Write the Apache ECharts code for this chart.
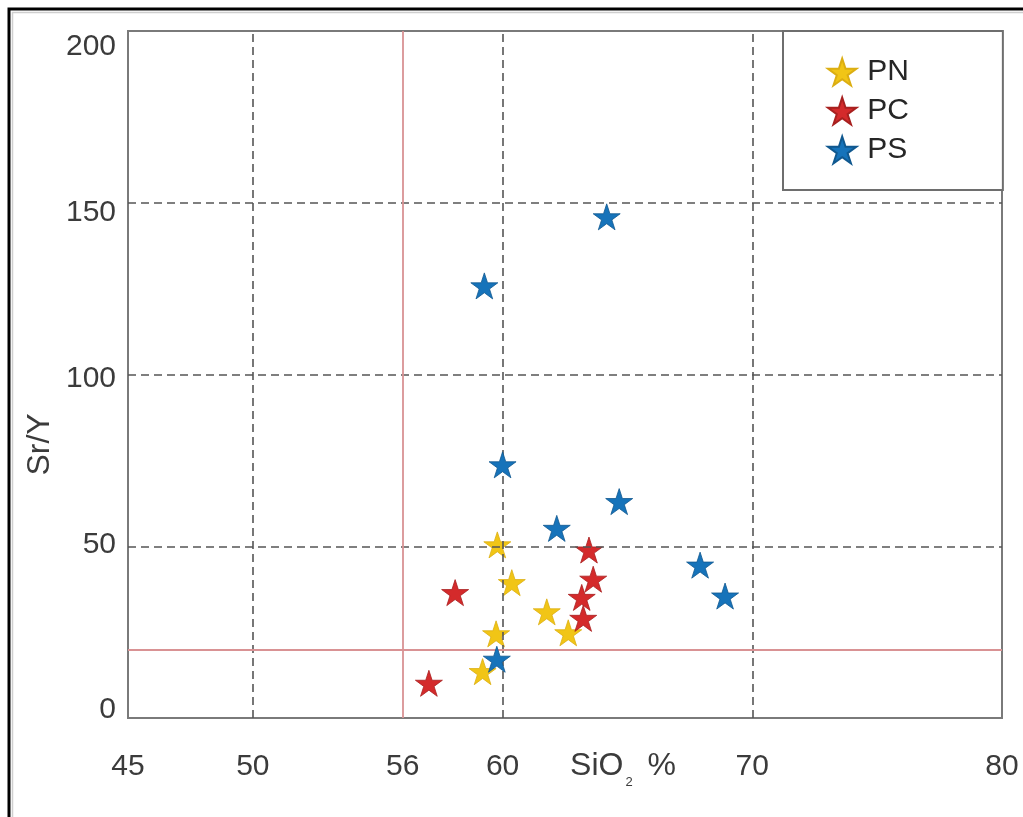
<!DOCTYPE html>
<html>
<head>
<meta charset="utf-8">
<title>Sr/Y vs SiO2</title>
<script src="https://cdn.jsdelivr.net/npm/echarts@6/dist/echarts.min.js"></script>
<style>
  html, body { margin: 0; padding: 0; background: #ffffff; overflow: hidden; }
  #chart { width: 1023px; height: 817px; position: absolute; left: 0; top: 0; }
</style>
</head>
<body>
<div id="chart"></div>
<script>
// Tick labels
const xTicks = [45, 50, 56, 60, 70, 80];
const yTicks = [0, 50, 100, 150, 200];

// Dashed reference grid and red discrimination limits
const gridX = [50, 60, 70];
const gridY = [50, 100, 150];
const sio2Limit = 56;
const srYLimit = 20;

// Samples: [SiO2 %, Sr/Y]
const pnData = [
  [59.79, 50.4], [60.37, 39.4], [61.77, 30.9],
  [62.63, 24.8], [59.74, 24.5], [59.2, 13.5]
];
const pcData = [
  [63.46, 48.9], [63.63, 40.4], [58.1, 36.5],
  [63.17, 35.1], [63.23, 29.0], [57.05, 10.1]
];
const psData = [
  [64.17, 145.9], [59.27, 125.8], [60.0, 73.7], [62.17, 55.2],
  [64.67, 63.0], [67.91, 44.5], [68.91, 35.5], [59.77, 17.1]
];

const seriesNames = ['PN', 'PC', 'PS'];
const seriesColors = ['#f1c516', '#d42a2b', '#1673ba'];
const seriesEdges = ['#dcae12', '#a8201f', '#10588f'];

const STAR = 'path://M50 0 L61.23 34.55 L97.55 34.55 L68.17 55.9 L79.39 90.45 L50 69.1 L20.61 90.45 L31.83 55.9 L2.45 34.55 L38.77 34.55 Z';
const FONT = '"Liberation Sans", Arial, Helvetica, sans-serif';
const TEXT = '#3b3b3b';

const chart = echarts.init(document.getElementById('chart'), null, {
  renderer: 'canvas', width: 1023, height: 817
});

const guideLines = [];
gridX.forEach(v => guideLines.push({ xAxis: v }));
gridY.forEach(v => guideLines.push({ yAxis: v }));
const limitStyle = { type: 'solid', color: '#d99294', width: 1.8 };
guideLines.push({ xAxis: sio2Limit, lineStyle: limitStyle });
guideLines.push({ yAxis: srYLimit, lineStyle: limitStyle });

const pointSeries = [pnData, pcData, psData].map((data, i) => ({
  name: seriesNames[i],
  type: 'scatter',
  data: data,
  z: 3 + i,
  symbol: STAR,
  symbolSize: [27, 26],
  itemStyle: { color: seriesColors[i], borderColor: seriesEdges[i], borderWidth: 0.8, opacity: 1 }
}));

const option = {
  backgroundColor: '#ffffff',
  animation: false,
  textStyle: { fontFamily: FONT },
  grid: {
    left: 128, top: 31, right: 21, bottom: 99,
    containLabel: false,
    outerBoundsMode: 'none',
    show: true, borderColor: '#7a7a7a', borderWidth: 2, backgroundColor: 'transparent'
  },
  xAxis: {
    type: 'value',
    min: 45, max: 80,
    name: '{a|SiO}{b|2}{a| %}',
    nameLocation: 'middle',
    nameGap: 25,
    nameMoveOverlap: false,
    nameTextStyle: {
      padding: [0, 0, 0, 116],
      rich: {
        a: { fontSize: 32, lineHeight: 46, color: TEXT, fontFamily: FONT },
        b: { fontSize: 13, lineHeight: 13, verticalAlign: 'bottom', color: TEXT, fontFamily: FONT, padding: [0, 6, 0, 2] }
      }
    },
    axisLine: { show: false },
    axisTick: { show: false },
    splitLine: { show: false },
    axisLabel: { customValues: xTicks, fontSize: 30, margin: 34, color: TEXT, fontFamily: FONT }
  },
  yAxis: [
    {
      type: 'value',
      min: 0, max: 200,
      name: 'Sr/Y',
      nameLocation: 'middle',
      nameRotate: 90,
      nameGap: 72,
      nameMoveOverlap: false,
      nameTextStyle: { fontSize: 32, color: TEXT, fontFamily: FONT, padding: [0, 140, 0, 0] },
      axisLine: { show: false },
      axisTick: { show: false },
      splitLine: { show: false },
      axisLabel: { show: false }
    },
    {
      // tick labels run on a slightly tighter scale than the gridlines
      type: 'value',
      position: 'left',
      min: -2.413, max: 204.83,
      axisLine: { show: false },
      axisTick: { show: false },
      splitLine: { show: false },
      axisLabel: { customValues: yTicks, fontSize: 30, margin: 12, color: TEXT, fontFamily: FONT }
    }
  ],
  legend: {
    data: seriesNames,
    orient: 'vertical',
    left: 783, top: 31,
    padding: [26, 94, 25, 44],
    itemGap: 9,
    itemWidth: 40,
    itemHeight: 27,
    icon: STAR,
    borderColor: '#6e6e6e',
    borderWidth: 2,
    backgroundColor: '#ffffff',
    textStyle: { fontSize: 30, color: '#262626', fontFamily: FONT }
  },
  series: [
    {
      name: 'guides',
      type: 'scatter',
      data: [],
      z: 1,
      silent: true,
      markLine: {
        silent: true,
        symbol: ['none', 'none'],
        label: { show: false },
        animation: false,
        lineStyle: { type: [8, 5], color: '#555555', width: 1.6 },
        data: guideLines
      }
    }
  ].concat(pointSeries),
  graphic: [
    {
      type: 'rect', silent: true, z: 100,
      shape: { x: 9, y: 9, width: 1200, height: 1200 },
      style: { fill: 'none', stroke: '#000000', lineWidth: 3 }
    },
    {
      type: 'rect', silent: true, z: 100,
      shape: { x: 12.5, y: 12.5, width: 1200, height: 1200 },
      style: { fill: 'none', stroke: '#cfcfcf', lineWidth: 1.5 }
    }
  ]
};

chart.setOption(option);
</script>
</body>
</html>
